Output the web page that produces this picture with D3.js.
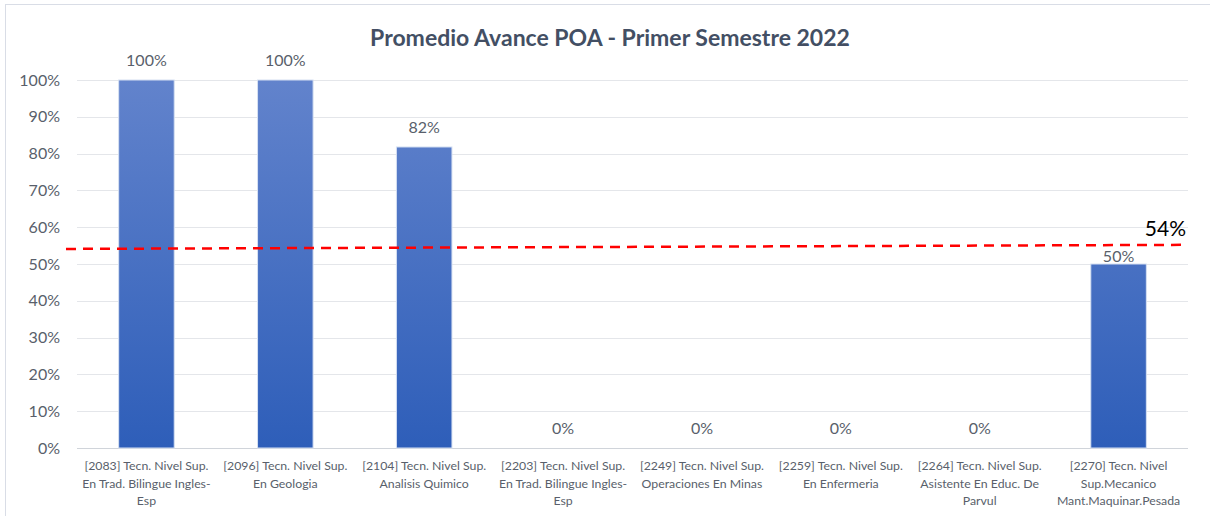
<!DOCTYPE html>
<html>
<head>
<meta charset="utf-8">
<script src="https://cdn.jsdelivr.net/npm/d3@7"></script>
<style>
  body { margin: 0; background: #fff; }
  text { font-family: Lato, "Open Sans", sans-serif; }
</style>
</head>
<body>
<div id="chart"></div>
<script>
(function() {
    const width = 1210,
          height = 516;

    // data
    const categories = ["2083", "2096", "2104", "2203", "2249", "2259", "2264", "2270"];
    const categoryLines = [
        ["[2083] Tecn. Nivel Sup.", "En Trad. Bilingue Ingles-", "Esp"],
        ["[2096] Tecn. Nivel Sup.", "En Geologia"],
        ["[2104] Tecn. Nivel Sup.", "Analisis Quimico"],
        ["[2203] Tecn. Nivel Sup.", "En Trad. Bilingue Ingles-", "Esp"],
        ["[2249] Tecn. Nivel Sup.", "Operaciones En Minas"],
        ["[2259] Tecn. Nivel Sup.", "En Enfermeria"],
        ["[2264] Tecn. Nivel Sup.", "Asistente En Educ. De", "Parvul"],
        ["[2270] Tecn. Nivel", "Sup.Mecanico", "Mant.Maquinar.Pesada"]
    ];
    const values = [1.00, 1.00, 0.818, 0, 0, 0, 0, 0.50];
    const yTicks = [0, 0.1, 0.2, 0.3, 0.4, 0.5, 0.6, 0.7, 0.8, 0.9, 1.0];
    const averageLabel = "54%";
    const averageEnds = [0.541, 0.552];   // dashed line drawn slightly tilted in the original

    const margin = {top: 80, right: 22, bottom: 68, left: 77};

    const svg = d3.select("#chart")
        .append("svg")
        .attr("width", width)
        .attr("height", height);

    // chart frame
    svg.append("rect")
        .attr("x", 5.5).attr("y", 4.5)
        .attr("width", width + 10).attr("height", height + 10)
        .attr("fill", "none")
        .attr("stroke", "#d9dde6");

    const defs = svg.append("defs");
    const grad = defs.append("linearGradient")
        .attr("id", "barGrad")
        .attr("gradientUnits", "userSpaceOnUse")
        .attr("x1", 0).attr("x2", 0)
        .attr("y1", margin.top).attr("y2", height - margin.bottom);
    grad.append("stop").attr("offset", "0%").attr("stop-color", "#6283cc");
    grad.append("stop").attr("offset", "100%").attr("stop-color", "#2e5eb9");

    const x = d3.scaleBand()
        .domain(categories)
        .range([margin.left, width - margin.right])
        .paddingInner(0.6)
        .paddingOuter(0.3);

    const y = d3.scaleLinear()
        .domain([0, 1])
        .range([height - margin.bottom, margin.top]);

    // gridlines
    svg.append("g")
        .selectAll("line")
        .data(yTicks)
        .enter().append("line")
        .attr("x1", margin.left)
        .attr("x2", width - margin.right)
        .attr("y1", d => Math.round(y(d)) + 0.5)
        .attr("y2", d => Math.round(y(d)) + 0.5)
        .attr("stroke", d => d === 0 ? "#d0d4da" : "#e4e6ea")
        .attr("stroke-width", 1);

    // y axis labels
    const yAxis = d3.axisLeft(y)
        .tickValues(yTicks)
        .tickFormat(d3.format(".0%"))
        .tickSize(0)
        .tickPadding(17);
    const yg = svg.append("g")
        .attr("transform", `translate(${margin.left},0)`)
        .call(yAxis);
    yg.select(".domain").remove();
    yg.selectAll("text")
        .attr("fill", "#595f6b")
        .style("font-family", "Lato, sans-serif")
        .style("font-size", "16px");

    // bars
    svg.selectAll(".bar")
        .data(values)
        .enter().append("rect")
        .attr("class", "bar")
        .attr("x", (d, i) => x(categories[i]))
        .attr("width", x.bandwidth())
        .attr("y", d => y(d))
        .attr("height", d => y(0) - y(d))
        .attr("fill", "url(#barGrad)")
        .attr("stroke", "#d6e0f2")
        .attr("stroke-width", d => d > 0 ? 1 : 0);

    // value labels (the last one sits closer to its bar in the original)
    svg.selectAll(".val")
        .data(values)
        .enter().append("text")
        .attr("class", "val")
        .attr("x", (d, i) => x(categories[i]) + x.bandwidth() / 2)
        .attr("y", (d, i) => y(d) - (i === 7 ? 2 : 14))
        .attr("text-anchor", "middle")
        .attr("fill", "#595f6b")
        .style("font-size", "16px")
        .text(d => d3.format(".0%")(d));

    // category labels
    const xg = svg.append("g");
    categoryLines.forEach((lines, i) => {
        const t = xg.append("text")
            .attr("x", x(categories[i]) + x.bandwidth() / 2)
            .attr("y", y(0) + 22)
            .attr("text-anchor", "middle")
            .attr("fill", "#595f6b")
            .style("font-size", "12.3px");
        t.selectAll("tspan")
            .data(lines)
            .enter().append("tspan")
            .attr("x", x(categories[i]) + x.bandwidth() / 2)
            .attr("dy", (d, j) => j === 0 ? 0 : 17.5)
            .text(d => d);
    });

    // average dashed line
    svg.append("line")
        .attr("x1", 66)
        .attr("x2", 1181)
        .attr("y1", y(averageEnds[0]))
        .attr("y2", y(averageEnds[1]))
        .attr("stroke", "#ff0000")
        .attr("stroke-width", 2.5)
        .attr("stroke-dasharray", "10,7");

    svg.append("text")
        .attr("x", 1186)
        .attr("y", y(averageEnds[1]) - 9)
        .attr("text-anchor", "end")
        .attr("fill", "#000")
        .style("font-size", "21px")
        .text(averageLabel);

    // title
    svg.append("text")
        .attr("x", 610)
        .attr("y", 46)
        .attr("text-anchor", "middle")
        .attr("fill", "#434f64")
        .style("font-size", "23px")
        .style("font-weight", "bold")
        .text("Promedio Avance POA - Primer Semestre 2022");
})();
</script>
</body>
</html>
